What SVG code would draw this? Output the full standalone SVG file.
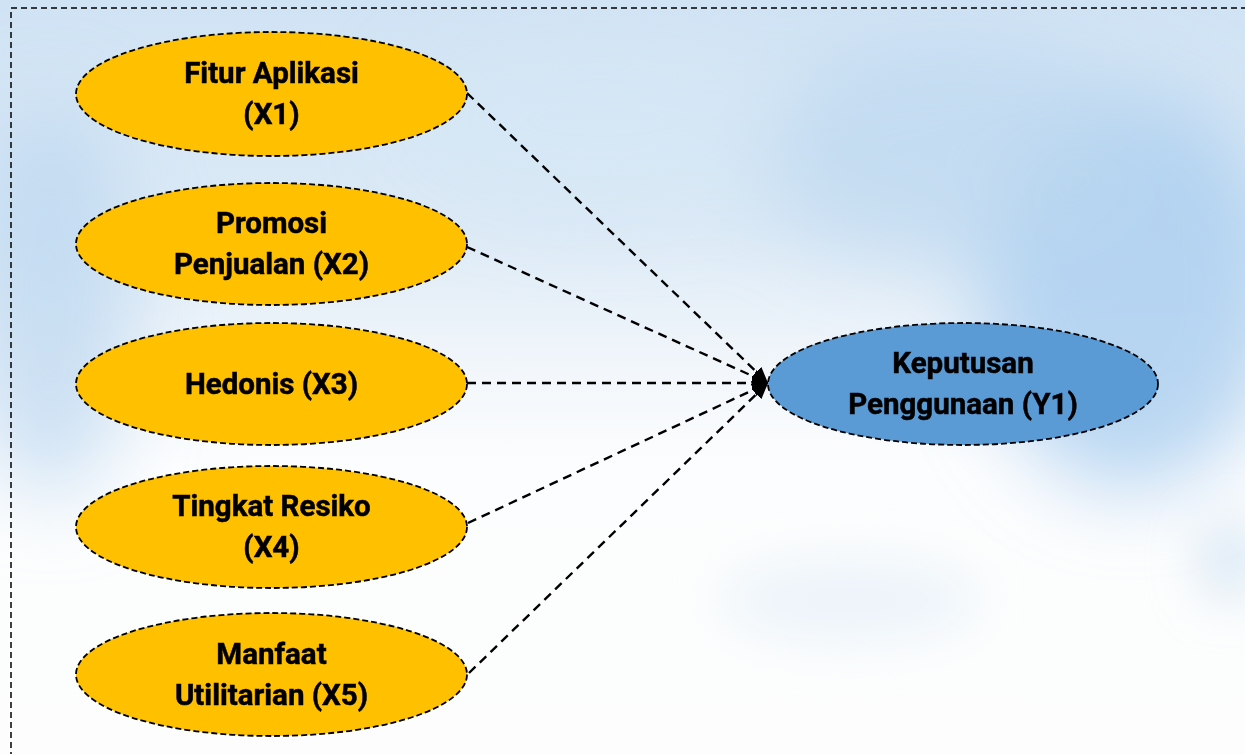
<svg xmlns="http://www.w3.org/2000/svg" width="1245" height="754" viewBox="0 0 1245 754">
<defs>
<style>
.node ellipse{stroke:#000;stroke-width:1.8;stroke-dasharray:6 3}
.x ellipse{fill:#FFC000}
.y ellipse{fill:#5B9BD5}
text{font-family:Roboto,"Open Sans","Liberation Sans",sans-serif;font-weight:bold;font-size:29.5px;fill:#000;text-anchor:middle;stroke:#000;stroke-width:0.5}
.conn line{stroke:#000;stroke-width:2.4;stroke-dasharray:9 6;fill:none}
</style>
<marker id="ah" viewBox="0 0 16 14" refX="16" refY="7" markerWidth="16" markerHeight="14" markerUnits="userSpaceOnUse" orient="auto">
<path d="M0,0 L16,7 L0,14 Z" fill="#000"/>
</marker>
<linearGradient id="bg" x1="0" y1="0" x2="0" y2="1">
<stop offset="0" stop-color="#d0e3f4"/>
<stop offset="0.3" stop-color="#dceaf6"/>
<stop offset="0.5" stop-color="#f3f7fb"/>
<stop offset="0.62" stop-color="#fcfdfe"/>
<stop offset="1" stop-color="#fdfdfd"/>
</linearGradient>
<filter id="blur" x="-50%" y="-50%" width="200%" height="200%"><feGaussianBlur stdDeviation="40"/></filter>
<filter id="blur2" x="-50%" y="-50%" width="200%" height="200%"><feGaussianBlur stdDeviation="25"/></filter>
</defs>
<rect width="1245" height="754" fill="url(#bg)"/>
<g filter="url(#blur)">
<ellipse cx="1130" cy="290" rx="150" ry="200" fill="#a9cdef" opacity="0.8"/>
<ellipse cx="950" cy="150" rx="200" ry="110" fill="#bcd7f0" opacity="0.7"/>
<ellipse cx="50" cy="300" rx="80" ry="200" fill="#b9d6ef" opacity="0.7"/>
<ellipse cx="600" cy="120" rx="200" ry="90" fill="#d6e7f5" opacity="0.6"/>
</g>
<g filter="url(#blur2)">
<ellipse cx="850" cy="600" rx="130" ry="40" fill="#e6f0f9" opacity="0.7"/>
<ellipse cx="1230" cy="560" rx="30" ry="40" fill="#cfe2f3" opacity="0.8"/>
</g>
<rect x="11" y="8" width="1300" height="800" fill="none" stroke="#000" stroke-width="1.5" stroke-dasharray="6 4"/>
<g class="conn">
<line x1="467" y1="93" x2="768" y2="383" marker-end="url(#ah)"/>
<line x1="467" y1="247" x2="768" y2="383" marker-end="url(#ah)"/>
<line x1="467" y1="383" x2="768" y2="383" marker-end="url(#ah)"/>
<line x1="468" y1="523" x2="768" y2="383" marker-end="url(#ah)"/>
<line x1="469" y1="673" x2="768" y2="383" marker-end="url(#ah)"/>
</g>
<g id="x1" class="node x">
<ellipse cx="271.5" cy="94" rx="195.5" ry="62"/>
<text x="271.5" y="83">Fitur Aplikasi</text>
<text x="271.5" y="124">(X1)</text>
</g>
<g id="x2" class="node x">
<ellipse cx="271.5" cy="244" rx="195.5" ry="61"/>
<text x="271.5" y="233">Promosi</text>
<text x="271.5" y="274">Penjualan (X2)</text>
</g>
<g id="x3" class="node x">
<ellipse cx="271.5" cy="384" rx="195.5" ry="61"/>
<text x="271.5" y="394">Hedonis (X3)</text>
</g>
<g id="x4" class="node x">
<ellipse cx="271.5" cy="527" rx="195.5" ry="61"/>
<text x="271.5" y="516">Tingkat Resiko</text>
<text x="271.5" y="557">(X4)</text>
</g>
<g id="x5" class="node x">
<ellipse cx="271.5" cy="674.5" rx="195.5" ry="61.5"/>
<text x="271.5" y="664">Manfaat</text>
<text x="271.5" y="705">Utilitarian (X5)</text>
</g>
<g id="y1" class="node y">
<ellipse cx="963" cy="384" rx="195" ry="61"/>
<text x="963" y="373">Keputusan</text>
<text x="963" y="414">Penggunaan (Y1)</text>
</g>
</svg>
